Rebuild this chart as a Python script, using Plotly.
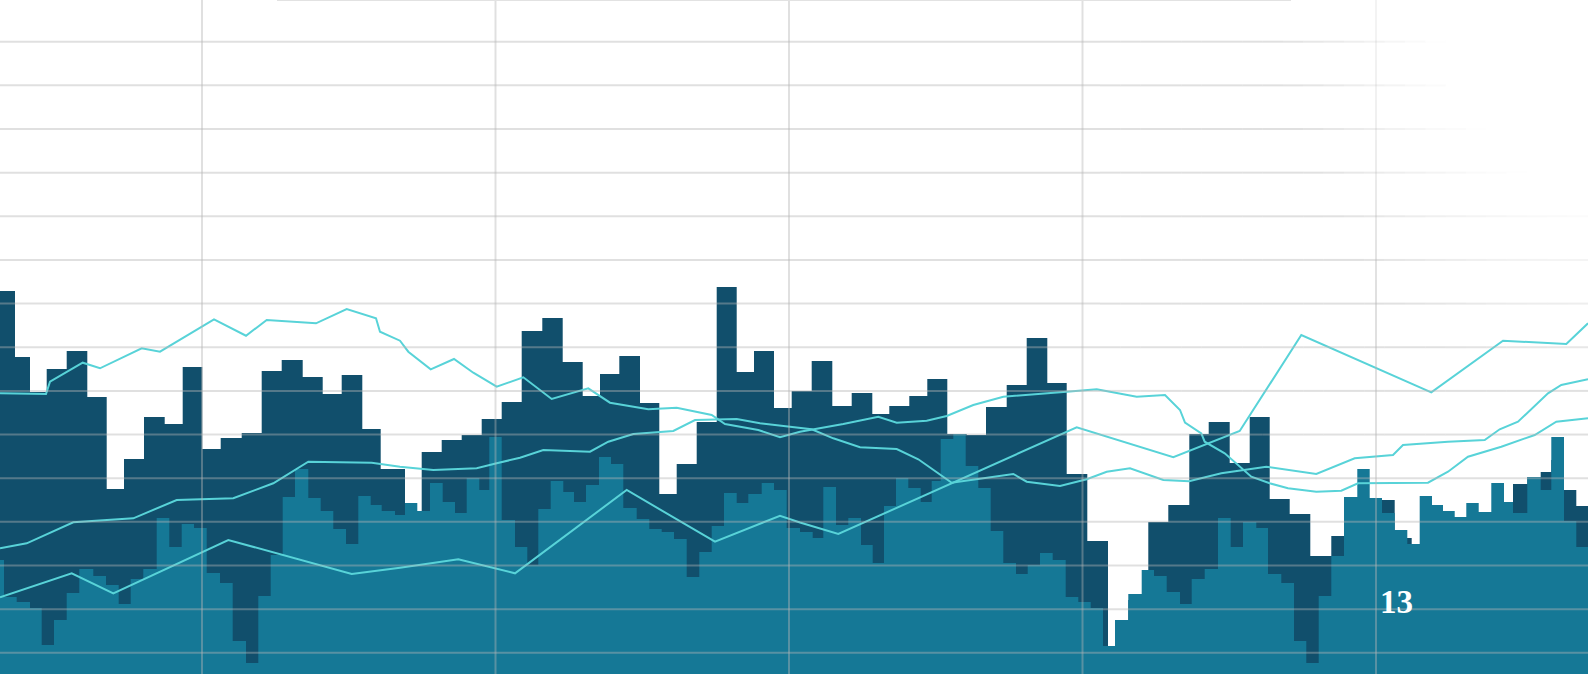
import math
import plotly.graph_objects as go

# ---------------- data ----------------
# dark stepped series: left edge of each step and its value
dark_x = [0, 15, 30, 46.7, 66.7, 87.3, 106.7, 124, 144, 164.7, 182.7, 202.3, 220.7, 241.7,
          261.7, 281.7, 302.7, 322.7, 341.7, 362.3, 380.7, 405, 421.7, 441.7, 461.7, 481.7,
          501.7, 521.7, 542.3, 562.7, 582.7, 600, 619.3, 640, 659.3, 676.7, 696.7, 716.7,
          736.7, 754, 774, 791.7, 811.7, 832.3, 851.7, 872.3, 889.3, 909.3, 927.3, 947.3,
          966.7, 986, 1006.7, 1026.7, 1047.3, 1066.7, 1087.3, 1108, 1128.3, 1148.3, 1168.3,
          1189.3, 1208.7, 1229.7, 1249.7, 1269.7, 1289.7, 1310.3, 1331.3, 1344, 1369.7,
          1394.7, 1411.7, 1513, 1527.3, 1540.7, 1551.3, 1564, 1576.3, 1588]
dark_v = [449, 383, 348, 371, 389, 343, 251, 281, 323, 316, 373, 291, 302, 307, 369, 380,
          363, 346, 365, 311, 271, 228, 288, 300, 305, 321, 338, 409, 422, 378, 344, 366,
          384, 337, 246, 276, 318, 453, 368, 389, 332, 349, 379, 334, 347, 326, 334, 344,
          361, 306, 305, 333, 355, 402, 357, 266, 199, 90, 140, 218, 235, 306, 318, 277,
          323, 241, 226, 184, 204, 235, 240, 202, 190, 256, 263, 268, 280, 250, 234, 234]

# teal stepped series
teal_x = [0, 4, 16.7, 30, 41.7, 54, 66.7, 79.3, 93.3, 106,
          118.7, 130.7, 143.3, 156.7, 169.3, 181.7, 194, 206.7, 220, 232.7,
          246, 258.3, 270.7, 282.7, 295, 308.3, 320.7, 333.3, 346, 358.3,
          370.7, 381.7, 395, 405, 417.3, 430, 442.7, 455, 466.7, 479.3,
          489.3, 501.7, 515, 527.3, 538.3, 550.7, 563.3, 574, 586, 599,
          611, 623.3, 636.7, 649.3, 661.7, 674, 686.7, 699.3, 711.7, 724,
          736.7, 748.3, 761.7, 774, 786.7, 800, 812.7, 823.3, 836, 848.3,
          861, 872.7, 884, 896, 908.3, 920.7, 931.7, 940.7, 953.3, 965.7,
          978.3, 990.7, 1003.3, 1016, 1027.7, 1040, 1052.7, 1065.7, 1078.3, 1090.7,
          1103, 1115, 1128.3, 1141.7, 1154, 1166.7, 1180, 1191.7, 1204.7, 1218,
          1230.7, 1243, 1256.3, 1268, 1281.3, 1294, 1306.3, 1318.7, 1331.3, 1344,
          1357.3, 1369.7, 1382, 1394.7, 1407.3, 1419.7, 1432, 1443, 1454.7, 1466.3,
          1478.7, 1491.3, 1504, 1513, 1527.3, 1540.7, 1551.3, 1564, 1576.3, 1588]
teal_v = [180, 143, 138, 132, 95, 120, 147, 171, 164, 155,
          136, 161, 171, 222, 193, 216, 212, 167, 157, 99,
          77, 144, 185, 243, 271, 242, 229, 211, 196, 244,
          235, 229, 225, 237, 229, 257, 238, 227, 262, 250,
          303, 220, 193, 175, 231, 259, 248, 238, 255, 283,
          276, 232, 221, 211, 208, 201, 163, 188, 214, 247,
          237, 246, 257, 250, 212, 208, 202, 253, 215, 222,
          195, 177, 234, 262, 252, 238, 259, 301, 306, 274,
          252, 209, 177, 166, 175, 187, 180, 143, 138, 132,
          94, 120, 146, 170, 164, 148, 136, 161, 171, 222,
          193, 218, 212, 166, 157, 99, 77, 144, 184, 243,
          271, 242, 227, 210, 196, 244, 235, 229, 223, 237,
          228, 257, 238, 227, 263, 250, 303, 219, 193, 193]

# three cyan lines
lineA_x = [0, 46, 50, 82.7, 100, 141.7, 160, 214, 246, 266.7, 316, 346.7, 376, 380, 400,
           408.3, 430.7, 454, 473.3, 496.7, 523.3, 551.7, 588.3, 610, 648.3, 676.7, 711.7,
           725, 758.3, 780, 800, 843.3, 878.3, 896.7, 926.7, 946.7, 973.3, 1003.3, 1066.7,
           1096.7, 1136.7, 1165, 1180, 1185, 1201.3, 1204.7, 1224.7, 1251.3, 1269.7, 1288,
           1316.3, 1341.3, 1358, 1428, 1448, 1468, 1501.3, 1534.7, 1556.3, 1588]
lineA_v = [346.7, 346, 358.3, 377.3, 371.7, 391.7, 388.3, 420.7, 404.3, 420, 416.7, 431,
           421.7, 408.3, 399.3, 388.3, 370.7, 381, 367.3, 353.3, 362.7, 341, 351.7, 337.3,
           330.7, 332.3, 325, 316, 310, 302.7, 308.3, 316, 323.3, 317.3, 319.3, 324, 335,
           343.3, 348.3, 350.7, 343.3, 345, 330, 317.3, 306.7, 298.3, 286.7, 263.3, 256.7,
           251.7, 248.3, 249.3, 256.7, 257.3, 268.3, 283.3, 293.3, 305, 318.3, 321.7]

lineB_x = [0, 26.7, 73.3, 133.3, 176.7, 233.3, 273.3, 308.3, 371.7, 400, 433.3, 476.7,
           496.7, 520, 543.3, 590, 608.3, 633.3, 673.3, 695, 736.7, 760, 790, 811.7, 833.3,
           860, 896.7, 918.3, 951.7, 1013.3, 1026.7, 1060, 1086.7, 1106.7, 1130, 1163.3,
           1189, 1221.3, 1266.3, 1301.3, 1316.3, 1354.7, 1393, 1403, 1448, 1484.7, 1499.7,
           1518, 1548, 1561.3, 1588]
lineB_v = [191.7, 196.7, 217.7, 221.7, 240, 241.7, 256.7, 278.3, 277.3, 273.3, 270, 271.7,
           276.7, 282.3, 290, 288.3, 298.3, 306, 309, 320, 321, 316.7, 313.3, 310.7, 301.7,
           292.7, 291, 280.7, 257.3, 266, 258.3, 254, 260.7, 268.3, 271.7, 260, 258.7,
           266.7, 273.3, 268.3, 266, 281.7, 285, 295, 298.3, 300, 310.7, 318.3, 346.7, 355,
           360.7]

lineC_x = [0, 71.7, 113.3, 228.3, 351.7, 400, 458.3, 515, 626.7, 715, 780, 800, 838.3,
           951.7, 1076.7, 1173.3, 1200, 1239.7, 1301.3, 1431.3, 1503, 1566.3, 1588]
lineC_v = [142.7, 166.7, 146.7, 200, 166, 172.3, 180.7, 166.7, 250, 198.3, 224.3, 217.5,
           206, 256.7, 312.7, 282.7, 293.3, 309, 405, 347.7, 399.3, 396, 416.7]

label_text = "13"
label_x = 1396
label_v = 138

# ---------------- styles ----------------
DARK = "#114f6c"
TEAL = "#157896"
CYAN = "#58d3d8"
X_RANGE = [0, 1588]
Y_RANGE = [66, 740]
H_TICK0, H_STEP, H_N = 87.2, 43.65, 15
V_TICK0, V_STEP, V_N = 202, 293.5, 5
GRID_RGB = (180, 180, 180)
GRID_ALPHA = 0.42

fig = go.Figure()
fig.add_trace(go.Scatter(x=dark_x, y=dark_v, mode="lines",
                         line=dict(shape="hv", width=0, color=DARK),
                         fill="tozeroy", fillcolor=DARK, hoverinfo="skip"))
fig.add_trace(go.Scatter(x=teal_x, y=teal_v, mode="lines",
                         line=dict(shape="hv", width=0, color=TEAL),
                         fill="tozeroy", fillcolor=TEAL, hoverinfo="skip"))
for lx, lv in [(lineC_x, lineC_v), (lineB_x, lineB_v), (lineA_x, lineA_v)]:
    fig.add_trace(go.Scatter(x=lx, y=lv, mode="lines",
                             line=dict(color=CYAN, width=2), hoverinfo="skip"))

# grid drawn above the areas, fading towards the top-right corner
Y_TOP = Y_RANGE[1]


def fade(x, v):
    py = Y_TOP - v
    r = math.sqrt(((X_RANGE[1] - x) / 330.0) ** 2 + (py / 420.0) ** 2)
    return min(1.0, max(0.0, (r - 0.45) / 0.5))


def pieces(a, b, n):
    return [(a + (b - a) * i / n, a + (b - a) * (i + 1) / n) for i in range(n)]


def grid_color(f):
    return "rgba(%d,%d,%d,%.3f)" % (GRID_RGB + (GRID_ALPHA * f,))


shapes = []
for k in range(H_N):
    v = H_TICK0 + k * H_STEP
    if Y_TOP - v < 460:
        segs = [(X_RANGE[0], 1100)] + pieces(1100, X_RANGE[1], 24)
    else:
        segs = [(X_RANGE[0], X_RANGE[1])]
    for a, b in segs:
        f = fade((a + b) / 2, v)
        if f <= 0.01:
            continue
        shapes.append(dict(type="line", xref="x", yref="y", x0=a, x1=b, y0=v, y1=v,
                           line=dict(color=grid_color(f), width=2), layer="above"))
for k in range(V_N):
    x = V_TICK0 + k * V_STEP
    if x > 1100:
        segs = pieces(Y_TOP, Y_TOP - 460, 23) + [(Y_TOP - 460, Y_RANGE[0])]
    else:
        segs = [(Y_TOP, Y_RANGE[0])]
    for a, b in segs:
        f = fade(x, (a + b) / 2)
        if f <= 0.01:
            continue
        shapes.append(dict(type="line", xref="x", yref="y", x0=x, x1=x, y0=a, y1=b,
                           line=dict(color=grid_color(f), width=2), layer="above"))

# thin rule along the top edge
shapes.append(dict(type="line", xref="x", yref="paper", x0=277, x1=1291, y0=1, y1=1,
                   line=dict(color="#e2e2e2", width=2), layer="above"))

fig.update_layout(
    width=1588, height=674,
    margin=dict(l=0, r=0, t=0, b=0),
    paper_bgcolor="white", plot_bgcolor="white",
    showlegend=False,
    xaxis=dict(range=X_RANGE, visible=False, fixedrange=True),
    yaxis=dict(range=Y_RANGE, visible=False, fixedrange=True),
    shapes=shapes,
    annotations=[dict(x=label_x, y=label_v, xref="x", yref="y", text="<b>%s</b>" % label_text,
                      showarrow=False, xanchor="center", yanchor="middle",
                      font=dict(family="Liberation Serif", size=33, color="white"))],
)

fig.write_html(
    "out.html",
    config={"displayModeBar": False},
    post_script="document.body.style.margin='0';document.body.style.padding='0';"
                "document.documentElement.style.overflow='hidden';",
)
